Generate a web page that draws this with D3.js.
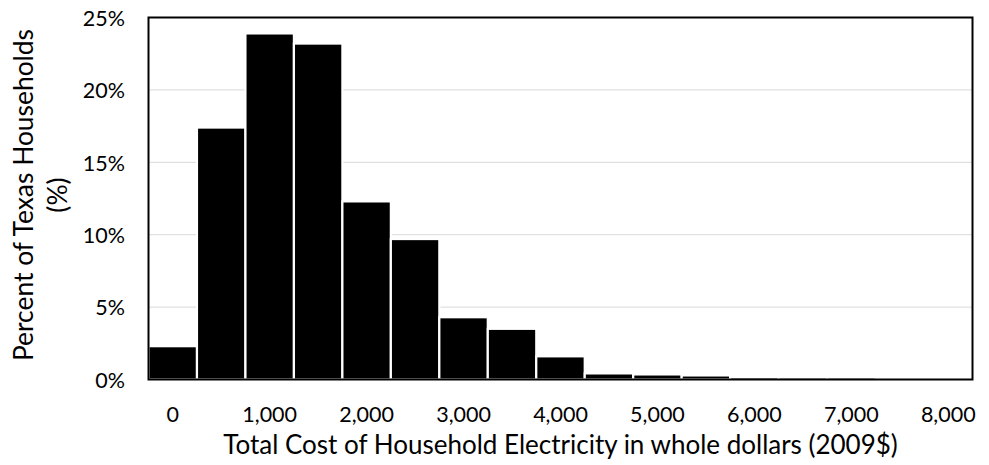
<!DOCTYPE html>
<html>
<head>
<meta charset="utf-8">
<script src="https://cdn.jsdelivr.net/npm/d3@7"></script>
<style>
  html, body { margin: 0; padding: 0; background: #fff; }
  svg { display: block; }
  text { font-family: Lato, "Noto Sans", sans-serif; fill: #000; }
</style>
</head>
<body>
<svg id="chart" width="989" height="465"></svg>
<script>
// Household electricity cost bins (lower edge of each $500 bin, 2009$)
const binStarts = [0, 500, 1000, 1500, 2000, 2500, 3000, 3500, 4000,
                   4500, 5000, 5500, 6000, 6500, 7000, 7500, 8000];
// Share of Texas households in each bin (%)
const householdShare = [2.3, 17.4, 23.9, 23.2, 12.3, 9.7, 4.3, 3.5, 1.6,
                        0.42, 0.35, 0.28, 0.18, 0.17, 0.17, 0, 0.15];
// Value-axis ticks (%)
const shareTicks = [0, 5, 10, 15, 20, 25];
// Category labels shown every $1,000
const labelledBins = [0, 1000, 2000, 3000, 4000, 5000, 6000, 7000, 8000];

const xTitle = "Total Cost of Household Electricity in whole dollars (2009$)";
const yTitleLines = ["Percent of Texas Households", "(%)"];

const svg = d3.select("#chart");
const plot = { left: 148.5, top: 17.5, right: 972.5, bottom: 379.5 };

const x = d3.scaleBand()
  .domain(binStarts)
  .range([plot.left, plot.right])
  .padding(0);

const y = d3.scaleLinear()
  .domain([0, 25])
  .range([plot.bottom, plot.top]);

// horizontal gridlines
svg.append("g")
  .selectAll("line")
  .data(shareTicks.filter(t => t > 0 && t < 25))
  .join("line")
  .attr("x1", plot.left).attr("x2", plot.right)
  .attr("y1", d => y(d)).attr("y2", d => y(d))
  .attr("stroke", "#d9d9d9")
  .attr("stroke-width", 1);

// histogram bars
svg.append("g")
  .selectAll("rect")
  .data(binStarts.map((b, i) => ({ bin: b, value: householdShare[i] })))
  .join("rect")
  .attr("x", d => x(d.bin))
  .attr("width", x.bandwidth())
  .attr("y", d => y(d.value))
  .attr("height", d => y(0) - y(d.value))
  .attr("fill", "#000")
  .attr("stroke", "#fff")
  .attr("stroke-width", 2.2);

// plot-area frame
svg.append("rect")
  .attr("x", plot.left).attr("y", plot.top)
  .attr("width", plot.right - plot.left)
  .attr("height", plot.bottom - plot.top)
  .attr("fill", "none")
  .attr("stroke", "#000")
  .attr("stroke-width", 2);

// x axis labels
const xAxis = d3.axisBottom(x)
  .tickValues(labelledBins)
  .tickFormat(d3.format(","))
  .tickSize(0);
const gx = svg.append("g")
  .attr("transform", `translate(0,${plot.bottom})`)
  .call(xAxis);
gx.select(".domain").remove();
gx.selectAll("text")
  .attr("y", 42.5).attr("dy", null)
  .style("font-size", "21.5px")
  .style("font-family", "Lato, sans-serif")
  .attr("fill", "#000");

// y axis labels
const yAxis = d3.axisLeft(y)
  .tickValues(shareTicks)
  .tickFormat(d => d + "%")
  .tickSize(0)
  .tickPadding(23.5);
const gy = svg.append("g")
  .attr("transform", `translate(${plot.left},0)`)
  .call(yAxis);
gy.select(".domain").remove();
gy.selectAll("text")
  .attr("dy", "0.36em")
  .style("font-size", "21.5px")
  .style("font-family", "Lato, sans-serif")
  .attr("fill", "#000");

// axis titles
svg.append("text")
  .attr("x", (plot.left + plot.right) / 2)
  .attr("y", 454)
  .attr("text-anchor", "middle")
  .style("font-size", "26px")
  .text(xTitle);

svg.append("g")
  .selectAll("text")
  .data(yTitleLines)
  .join("text")
  .attr("transform", (d, i) => `translate(${33 + i * 34},195) rotate(-90)`)
  .attr("text-anchor", "middle")
  .style("font-size", "26.4px")
  .text(d => d);
</script>
</body>
</html>
